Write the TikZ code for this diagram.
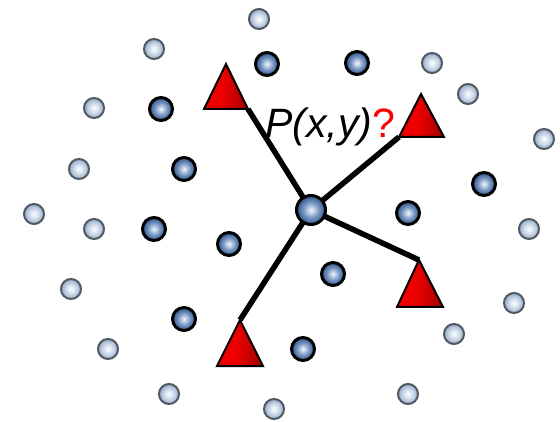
\documentclass[tikz,border=0pt]{standalone}
\usepackage{fontspec}
\setmainfont{Liberation Sans}
\definecolor{dbA}{HTML}{F2F6FB}
\definecolor{dbB}{HTML}{7A98C4}
\definecolor{dbC}{HTML}{2E5288}
\definecolor{lbA}{HTML}{FFFFFF}
\definecolor{lbB}{HTML}{D0DCEB}
\definecolor{lbC}{HTML}{95ABC9}
\definecolor{lballline}{HTML}{505860}
\definecolor{triA}{HTML}{EE0000}
\definecolor{triB}{HTML}{A00000}
\pgfdeclareradialshading{darkball}{\pgfpoint{0bp}{0bp}}{color(0bp)=(dbA); color(13bp)=(dbB); color(25bp)=(dbC); color(50bp)=(dbC)}
\pgfdeclareradialshading{lightball}{\pgfpoint{0bp}{0bp}}{color(0bp)=(lbA); color(12bp)=(lbB); color(25bp)=(lbC); color(50bp)=(lbC)}
\pgfdeclarehorizontalshading{trishade}{100bp}{color(0bp)=(triA); color(45bp)=(triA); color(75bp)=(triB); color(100bp)=(triB)}
\begin{document}
\begin{tikzpicture}[x=1pt,y=-1pt,
  lball/.style={circle, draw=lballline, line width=2pt, minimum size=20pt, inner sep=0pt, shade, shading=lightball},
  dball/.style={circle, draw=black, line width=3pt, minimum size=23pt, inner sep=0pt, shade, shading=darkball},
  cball/.style={dball, minimum size=29pt},
  link/.style={line width=5.5pt},
  tri/.style={draw=black, line width=2pt, line join=miter, shade, shading=trishade}]
\useasboundingbox (0,0) rectangle (560,422);
% light balls
\node[lball] (l1) at (259,19) {};
\node[lball] (l2) at (154,49) {};
\node[lball] (l3) at (432,63) {};
\node[lball] (l4) at (468,94) {};
\node[lball] (l5) at (94,108) {};
\node[lball] (l6) at (544,139) {};
\node[lball] (l7) at (79,169) {};
\node[lball] (l8) at (34,214) {};
\node[lball] (l9) at (94,229) {};
\node[lball] (l10) at (529,229) {};
\node[lball] (l11) at (71,289) {};
\node[lball] (l12) at (514,303) {};
\node[lball] (l13) at (454,334) {};
\node[lball] (l14) at (108,349) {};
\node[lball] (l15) at (169,394) {};
\node[lball] (l16) at (408,394) {};
\node[lball] (l17) at (274,409) {};
% dark balls
\node[dball] (d1) at (267,64) {};
\node[dball] (d2) at (357,63) {};
\node[dball] (d3) at (161,109) {};
\node[dball] (d4) at (184,169) {};
\node[dball] (d5) at (484,184) {};
\node[dball] (d6) at (408,213) {};
\node[dball] (d7) at (154,229) {};
\node[dball] (d8) at (229,244) {};
\node[dball] (d9) at (333,274) {};
\node[dball] (d10) at (184,319) {};
\node[dball] (d11) at (303,349) {};
% triangle corners
\coordinate (p) at (311,210);
\coordinate (t1a) at (226,64);  \coordinate (t1l) at (204,109); \coordinate (t1r) at (248,109);
\coordinate (t2a) at (421,94);  \coordinate (t2l) at (399,137); \coordinate (t2r) at (444,137);
\coordinate (t3a) at (419,260); \coordinate (t3l) at (397,307); \coordinate (t3r) at (443,307);
\coordinate (t4a) at (240,320); \coordinate (t4l) at (217,366); \coordinate (t4r) at (263,366);
% links
\draw[link] (p) -- (t1r);
\draw[link] (p) -- (t2l);
\draw[link] (p) -- (t3a);
\draw[link] (p) -- (t4a);
% triangles
\draw[tri] (t1a) -- (t1r) -- (t1l) -- cycle;
\draw[tri] (t2a) -- (t2r) -- (t2l) -- cycle;
\draw[tri] (t3a) -- (t3r) -- (t3l) -- cycle;
\draw[tri] (t4a) -- (t4r) -- (t4l) -- cycle;
% centre
\node[cball] (c) at (p) {};
\node[anchor=base west, inner sep=0pt, font=\fontsize{41}{44}\selectfont] (lab) at (265,138) {\textit{P(x,y)}\textcolor{red}{?}};
\end{tikzpicture}
\end{document}
